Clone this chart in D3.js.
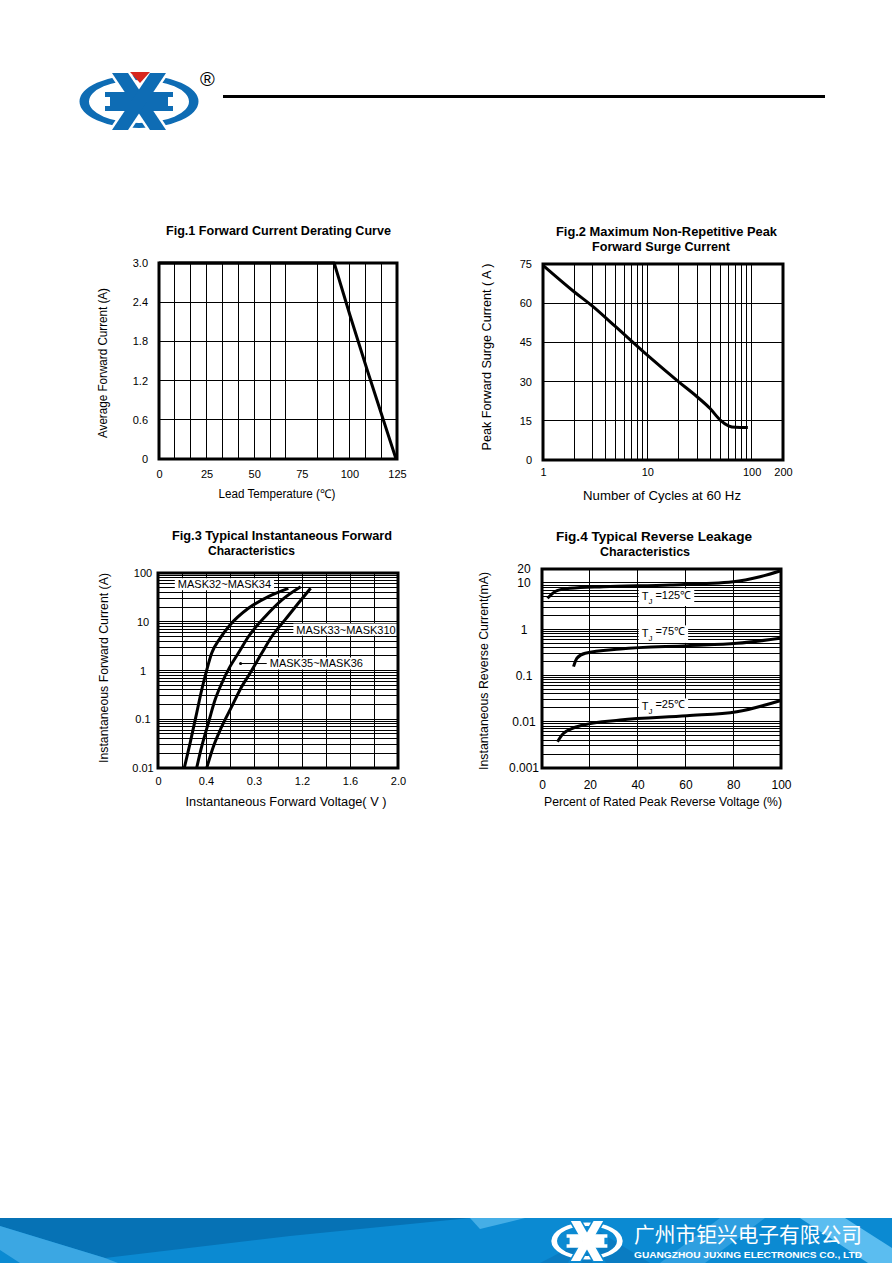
<!DOCTYPE html>
<html>
<head>
<meta charset="utf-8">
<script src="https://cdn.jsdelivr.net/npm/d3@7"></script>
<style>
  body { margin: 0; background: #fff; }
  svg { display: block; font-family: "Liberation Sans", Arial, sans-serif; }
</style>
</head>
<body>
<svg id="page" width="892" height="1263"></svg>
<script>
// ---- Fig.1 forward current derating
const fig1Temp = [0, 92, 100.3, 109.6, 117.8, 124.5];
const fig1Current = [3.0, 3.0, 2.2, 1.34, 0.6, 0];
const fig1XTicks = [0, 25, 50, 75, 100, 125];
const fig1YTicks = [0, 0.6, 1.2, 1.8, 2.4, 3.0];
const fig1YLabels = ["0", "0.6", "1.2", "1.8", "2.4", "3.0"];
const fig1XGrid = [8.33, 16.67, 25, 33.33, 41.67, 50, 58.33, 66.67, 83.33, 91.67, 100, 108.33, 116.67];
const fig1YGrid = [0.6, 1.2, 1.8, 2.4];

// ---- Fig.2 surge current
const fig2Cycles = [1, 2, 3, 5, 10, 20, 30, 40, 50, 60, 70, 92];
const fig2Current = [74.5, 64.3, 58.8, 50.9, 40.1, 29.9, 24.2, 19.7, 15.3, 13.1, 12.5, 12.4];
const fig2XTicks = [1, 10, 100, 200];
const fig2YTicks = [0, 15, 30, 45, 60, 75];
const fig2XGrid = [2, 3, 4, 5, 6, 7, 8, 9, 10, 20, 30, 40, 50, 60, 70, 80, 90, 100];
const fig2YGrid = [15, 30, 45, 60];

// ---- Fig.3 forward characteristics
const fig3V_A = [0.219, 0.267, 0.322, 0.364, 0.406, 0.447, 0.517, 0.6, 0.753, 0.919, 1.086];
const fig3I_A = [0.01, 0.032, 0.133, 0.398, 1.02, 2.25, 4.57, 8.57, 18.9, 32.7, 48.5];
const fig3V_B = [0.322, 0.364, 0.419, 0.475, 0.531, 0.6, 0.669, 0.753, 0.892, 1.031, 1.189];
const fig3I_B = [0.01, 0.0273, 0.0826, 0.248, 0.546, 1.2, 2.25, 4.93, 12.7, 27.9, 52.4];
const fig3V_C = [0.406, 0.461, 0.531, 0.614, 0.697, 0.767, 0.864, 0.947, 1.058, 1.169, 1.272];
const fig3I_C = [0.01, 0.0273, 0.0703, 0.181, 0.465, 0.877, 2.25, 4.93, 10.9, 23.9, 48.5];
const fig3XTicks = [0, 0.4, 0.8, 1.2, 1.6, 2.0];
const fig3XLabels = ["0", "0.4", "0.3", "1.2", "1.6", "2.0"];
const fig3YTicks = [0.01, 0.1, 1, 10, 100];
const fig3YLabels = ["0.01", "0.1", "1", "10", "100"];
const fig3XGrid = [0.2, 0.4, 0.6, 0.8, 1.0, 1.2, 1.4, 1.6, 1.8];

// ---- Fig.4 reverse leakage
const fig4Pct125 = [2.3, 6.3, 11.8, 25.7, 53.6, 80, 91.2, 99.6];
const fig4I125 = [4.65, 6.79, 7.65, 8.28, 9.02, 10.6, 13.6, 18.1];
const fig4Pct75 = [13.2, 14.6, 18.1, 32.7, 60.6, 81.5, 99.6];
const fig4I75 = [0.155, 0.235, 0.301, 0.373, 0.44, 0.495, 0.635];
const fig4Pct25 = [6.5, 9, 17.4, 32.7, 60.6, 81.5, 99.6];
const fig4I25 = [0.0037, 0.0056, 0.0085, 0.0109, 0.0135, 0.0165, 0.0285];
const fig4XTicks = [0, 20, 40, 60, 80, 100];
const fig4YTicks = [0.001, 0.01, 0.1, 1, 10, 20];
const fig4YLabels = ["0.001", "0.01", "0.1", "1", "10", "20"];
const fig4XGrid = [20, 40, 60, 80];

const svg = d3.select("#page");
const blue = "#0e6cb4";

// logo: ring, X arms, side blocks, red triangle (drawn in its own coords, centre 139,101.5)
function drawLogo(g, fill, outline, tri) {
  const ell = (rx, ry) => `M${139 - rx},101.5a${rx},${ry} 0 1,0 ${2 * rx},0a${rx},${ry} 0 1,0 ${-2 * rx},0Z`;
  g.append("path").attr("d", ell(59.5, 26.5) + ell(50, 21.5))
    .attr("fill", fill).attr("fill-rule", "evenodd");
  const arms = ["M112,73L128,73L166,130L150,130Z", "M166,73L150,73L112,130L128,130Z"];
  g.selectAll(".armo").data(arms).join("path").attr("d", d => d)
    .attr("fill", outline).attr("stroke", outline).attr("stroke-width", 5);
  g.selectAll(".arm").data(arms).join("path").attr("d", d => d).attr("fill", fill);
  g.append("path").attr("d", "M105,92H131V111H105Z M173,92H147V111H173Z").attr("fill", fill);
  g.append("path").attr("d", "M104,97H110V106H104Z M174,97H168V106H174Z").attr("fill", outline);
  if (tri) g.append("path").attr("d", "M130,72L150,72L140,83Z").attr("fill", tri);
}

// header
drawLogo(svg.append("g"), blue, "#fff", "#d7261e");
svg.append("text").attr("x", 200).attr("y", 86).attr("font-size", 20).text("®");
svg.append("line").attr("x1", 223).attr("x2", 825).attr("y1", 96.5).attr("y2", 96.5)
  .attr("stroke", "#000").attr("stroke-width", 3);

function drawPanel(p) {
  const g = svg.append("g");
  const [xl, xr] = p.x.range(), [yb, yt] = p.y.range();

  const grid = g.append("g").attr("stroke", "#000").attr("stroke-width", 1).attr("shape-rendering", "crispEdges");
  grid.selectAll(".vx").data(p.xGrid).join("line")
    .attr("x1", d => p.x(d)).attr("x2", d => p.x(d)).attr("y1", yt).attr("y2", yb);
  grid.selectAll(".hy").data(p.yGrid).join("line")
    .attr("x1", xl).attr("x2", xr).attr("y1", d => p.y(d)).attr("y2", d => p.y(d));

  // annotations with white boxes
  const lab = g.append("g").attr("font-size", 11);
  (p.labels || []).forEach(l => {
    const t = lab.append("text").attr("x", p.x(l.x)).attr("y", p.y(l.y)).attr("dy", "0.36em");
    if (l.sub) {
      t.append("tspan").text("T");
      t.append("tspan").attr("font-size", 8).attr("dy", "0.5em").text("J");
      t.append("tspan").attr("dy", "-0.5em").text(l.text);
    } else {
      t.text(l.text);
    }
    const b = t.node().getBBox();
    lab.insert("rect", function () { return t.node(); })
      .attr("x", b.x - 3).attr("y", b.y).attr("width", b.width + 6).attr("height", b.height)
      .attr("fill", "#fff");
  });
  (p.leaders || []).forEach(l => {
    lab.append("line").attr("x1", p.x(l.x1)).attr("x2", p.x(l.x2) - 3).attr("y1", p.y(l.y)).attr("y2", p.y(l.y))
      .attr("stroke", "#000").attr("stroke-width", 1);
    lab.append("circle").attr("cx", p.x(l.x1) + 1).attr("cy", p.y(l.y)).attr("r", 1.5);
  });

  const line = d3.line().x(d => p.x(d[0])).y(d => p.y(d[1])).curve(p.curve || d3.curveMonotoneX);
  g.selectAll(".curve").data(p.series).join("path")
    .attr("d", d => line(d3.zip(d[0], d[1])))
    .attr("fill", "none").attr("stroke", "#000").attr("stroke-width", 3).attr("stroke-linejoin", "round");

  g.append("rect").attr("x", xl).attr("y", yt).attr("width", xr - xl).attr("height", yb - yt)
    .attr("fill", "none").attr("stroke", "#000").attr("stroke-width", 3);

  const fs = p.tickSize || 11;
  const ax = g.append("g").attr("transform", `translate(0,${yb})`)
    .call(d3.axisBottom(p.x).tickValues(p.xTicks).tickSize(0).tickPadding(p.xPad)
      .tickFormat((d, i) => p.xLabels ? p.xLabels[i] : d));
  const ay = g.append("g").attr("transform", `translate(${xl},0)`)
    .call(d3.axisLeft(p.y).tickValues(p.yTicks).tickSize(0).tickPadding(p.yPad)
      .tickFormat((d, i) => p.yLabels ? p.yLabels[i] : d));
  [ax, ay].forEach(a => {
    a.select(".domain").remove();
    a.attr("font-family", null).attr("font-size", fs);
    a.selectAll("text").attr("fill", "#000");
  });
  if (p.yAnchor) ay.attr("text-anchor", p.yAnchor);

  g.append("text").attr("x", p.xTitle[0]).attr("y", p.xTitle[1]).attr("text-anchor", "middle")
    .attr("font-size", 12).attr("textLength", p.xTitle[3]).attr("lengthAdjust", "spacingAndGlyphs").text(p.xTitle[2]);
  g.append("text").attr("transform", `translate(${p.yTitle[0]},${p.yTitle[1]}) rotate(-90)`)
    .attr("text-anchor", "middle").attr("dy", "0.35em").attr("font-size", 12)
    .attr("textLength", p.yTitle[3]).attr("lengthAdjust", "spacingAndGlyphs").text(p.yTitle[2]);

  p.titles.forEach(t => {
    g.append("text").attr("x", t[0]).attr("y", t[1]).attr("font-size", 12).attr("font-weight", "bold")
      .attr("textLength", t[3]).attr("lengthAdjust", "spacingAndGlyphs").text(t[2]);
  });
}

drawPanel({
  x: d3.scaleLinear().domain([0, 125]).range([159, 397]),
  y: d3.scaleLinear().domain([0, 3]).range([459, 263]),
  xGrid: fig1XGrid, yGrid: fig1YGrid,
  series: [[fig1Temp, fig1Current]], curve: d3.curveLinear,
  xTicks: fig1XTicks, yTicks: fig1YTicks, yLabels: fig1YLabels,
  xPad: 11, yPad: 11,
  xTitle: [277, 498, "Lead Temperature (\u2103)", 117],
  yTitle: [103, 363, "Average Forward Current (A)", 150],
  titles: [[166, 235, "Fig.1 Forward Current Derating Curve", 225]]
});

drawPanel({
  x: d3.scaleLog().domain([1, 200]).range([543, 783]),
  y: d3.scaleLinear().domain([0, 75]).range([460, 264]),
  xGrid: fig2XGrid, yGrid: fig2YGrid,
  series: [[fig2Cycles, fig2Current]],
  xTicks: fig2XTicks, yTicks: fig2YTicks,
  xPad: 8, yPad: 11,
  xTitle: [662, 500, "Number of Cycles at 60 Hz", 158],
  yTitle: [487, 357, "Peak Forward Surge Current ( A )", 187],
  titles: [[556, 236, "Fig.2 Maximum Non-Repetitive Peak", 221], [592, 251, "Forward Surge Current", 138]]
});

const y3 = d3.scaleLog().domain([0.01, 100]).range([768, 573]);
drawPanel({
  x: d3.scaleLinear().domain([0, 2]).range([158, 398]),
  y: y3,
  xGrid: fig3XGrid, yGrid: y3.ticks(),
  series: [[fig3V_A, fig3I_A], [fig3V_B, fig3I_B], [fig3V_C, fig3I_C]],
  xTicks: fig3XTicks, xLabels: fig3XLabels, yTicks: fig3YTicks, yLabels: fig3YLabels,
  xPad: 9, yPad: 15, yAnchor: "middle",
  labels: [
    { x: 0.165, y: 58.7, text: "MASK32~MASK34" },
    { x: 1.153, y: 6.9, text: "MASK33~MASK310" },
    { x: 0.931, y: 1.39, text: "MASK35~MASK36" }
  ],
  leaders: [{ x1: 0.68, x2: 0.931, y: 1.39 }],
  xTitle: [286, 806, "Instantaneous Forward Voltage( V )", 201],
  yTitle: [104, 668, "Instantaneous Forward Current (A)", 190],
  titles: [[172, 540, "Fig.3 Typical Instantaneous Forward", 220], [208, 555, "Characteristics", 87]]
});

const y4 = d3.scaleLog().domain([0.001, 20]).range([768, 569]);
drawPanel({
  x: d3.scaleLinear().domain([0, 100]).range([542, 781]),
  y: y4,
  xGrid: fig4XGrid, yGrid: y4.ticks(),
  series: [[fig4Pct125, fig4I125], [fig4Pct75, fig4I75], [fig4Pct25, fig4I25]],
  xTicks: fig4XTicks, yTicks: fig4YTicks, yLabels: fig4YLabels,
  xPad: 12, yPad: 18, yAnchor: "middle", tickSize: 12,
  labels: [
    { x: 41.7, y: 5.2, text: " =125\u2103", sub: true },
    { x: 41.7, y: 0.83, text: " =75\u2103", sub: true },
    { x: 41.7, y: 0.0219, text: " =25\u2103", sub: true }
  ],
  xTitle: [663, 806, "Percent of Rated Peak Reverse Voltage (%)", 238],
  yTitle: [484, 671, "Instantaneous Reverse Current(mA)", 198],
  titles: [[556, 541, "Fig.4 Typical Reverse Leakage", 196], [600, 556, "Characteristics", 90]]
});

// footer banner
const foot = svg.append("g");
foot.append("rect").attr("x", 0).attr("y", 1218).attr("width", 892).attr("height", 45).attr("fill", "#0b8ad2");
const facets = [
  ["M0,1218L470,1218L290,1236L105,1258L0,1226Z", "#0672b5"],
  ["M0,1226L105,1258L118,1263L20,1263L0,1250Z", "#3ba7e3"],
  ["M470,1218L525,1218L480,1229Z", "#45aee6"],
  ["M720,1218L765,1218L705,1263L660,1263Z", "#2f9fe0"],
  ["M800,1218L845,1218L892,1248L892,1263L868,1263Z", "#5bbdf0"],
  ["M540,1263L600,1232L650,1263Z", "#0a7cc2"]
];
foot.selectAll(".facet").data(facets).join("path").attr("d", d => d[0]).attr("fill", d => d[1]);
drawLogo(foot.append("g").attr("transform", "translate(587,1241) scale(0.6,0.7) translate(-139,-101.5)"),
  "#fff", "#0b8ad2", null);
foot.append("text").attr("x", 634).attr("y", 1242).attr("fill", "#fff").attr("font-size", 21)
  .attr("font-family", "Noto Sans CJK SC").attr("textLength", 228).attr("lengthAdjust", "spacingAndGlyphs")
  .text("广州市钜兴电子有限公司");
foot.append("text").attr("x", 634).attr("y", 1257.5).attr("fill", "#fff").attr("font-size", 9)
  .attr("font-weight", "bold").attr("textLength", 228).attr("lengthAdjust", "spacingAndGlyphs")
  .text("GUANGZHOU JUXING ELECTRONICS CO., LTD");
</script>
</body>
</html>
